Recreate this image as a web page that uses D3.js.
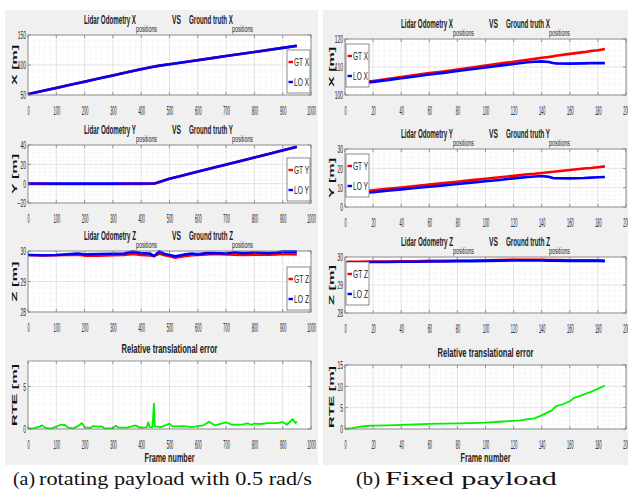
<!DOCTYPE html>
<html>
<head>
<meta charset="utf-8">
<script src="https://cdn.jsdelivr.net/npm/d3@7"></script>
<style>
body{margin:0;background:#fff;}
svg text{font-family:"Liberation Sans",Arial,sans-serif;fill:#262626;}
svg text.caption{font-family:"Liberation Serif","Times New Roman",serif;fill:#111;}
</style>
</head>
<body>
<script>
//ticks
var leftFrameTicks = [0,100,200,300,400,500,600,700,800,900,1000];
var rightFrameTicks = [0,20,40,60,80,100,120,140,160,180,200];
var leftXTicks = [50,100,150], leftYTicks = [-20,0,20,40], leftZTicks = [28,29,30], leftRteTicks = [0,5];
var rightXTicks = [100,110,120], rightYTicks = [0,10,20,30], rightZTicks = [28,29,30], rightRteTicks = [0,5,10,15];

//(a) rotating payload
var leftFramesXY = [0,50,100,150,200,250,300,350,400,440,450,460,500,550,600,650,700,750,800,850,900,950];
var leftGtX = [51.5,56.7,61.9,67.1,72.3,77.5,82.7,87.9,93.1,97.0,98.0,98.6,101.3,104.7,108.1,111.5,115.0,118.4,121.8,125.2,128.6,132.0];
var leftLoX = [51.3,56.5,61.8,67.0,72.1,77.4,82.6,87.8,93.0,96.8,97.6,98.5,101.2,104.6,108.0,111.4,114.9,118.3,121.7,125.1,128.5,131.9];
var leftGtY = [-0.2,-0.2,-0.3,-0.3,-0.3,-0.3,-0.3,-0.2,-0.2,-0.1,0.3,1.2,5.0,8.6,12.3,16.0,19.6,23.3,27.0,30.6,34.3,38.0];
var leftLoY = [0.1,0.1,0.0,0.0,0.0,0.0,0.0,0.1,0.1,0.2,0.5,1.4,5.2,8.8,12.5,16.2,19.8,23.5,27.1,30.8,34.5,38.2];
var leftFramesZ = [0,50,100,150,175,200,250,300,340,370,400,430,445,465,480,500,520,550,580,600,630,660,700,730,760,800,850,880,900,950];
var leftLoZ = [29.87,29.86,29.87,29.90,29.92,29.89,29.90,29.91,29.92,29.98,29.93,29.92,29.83,29.99,29.91,29.87,29.83,29.88,29.92,29.89,29.93,29.93,29.92,29.96,29.93,29.95,29.93,29.95,29.98,29.98];
var leftGtZ = [29.87,29.85,29.86,29.87,29.88,29.85,29.85,29.86,29.87,29.90,29.87,29.85,29.84,29.91,29.87,29.83,29.78,29.83,29.86,29.87,29.89,29.90,29.89,29.88,29.87,29.88,29.88,29.89,29.90,29.89];
var leftFramesRte = [0,20,40,50,60,80,100,115,130,140,160,180,190,200,220,230,250,260,270,300,310,320,350,380,395,420,425,430,440,445,448,470,500,510,550,580,600,620,640,660,700,720,760,775,790,800,820,850,880,900,915,935,945,950];
var leftRte = [0.08,0.08,0.27,0.43,0.16,0.04,0.27,0.5,0.47,0.2,0.08,0.39,0.7,0.2,0.12,0.35,0.27,0.31,0.08,0.08,0.39,0.16,0.16,0.43,0.16,0.2,0.78,0.23,0.23,2.97,0.31,0.23,0.63,0.31,0.35,0.23,0.35,0.43,0.86,0.43,0.78,0.5,0.55,0.66,0.5,0.63,0.59,0.7,0.7,0.82,0.5,1.17,0.7,0.86];

//(b) fixed payload
var rightFrames = [1,10,20,30,40,50,60,70,80,90,100,110,120,130,135,140,145,148,150,160,170,175,180,185];
var rightGtX = [103.8,104.4,105.0,105.7,106.4,107.1,107.8,108.4,109.1,109.8,110.5,111.2,111.9,112.6,112.9,113.3,113.6,113.8,114.0,114.7,115.3,115.7,116.0,116.4];
var rightLoX = [103.6,104.1,104.7,105.3,106.0,106.6,107.3,107.9,108.6,109.2,109.8,110.5,111.1,111.7,111.9,112.0,111.8,111.4,111.3,111.2,111.3,111.4,111.4,111.4];
var rightGtY = [7.2,7.9,8.6,9.4,10.1,10.9,11.6,12.4,13.1,13.9,14.6,15.4,16.1,16.9,17.2,17.6,18.0,18.2,18.4,19.1,19.9,20.2,20.6,21.0];
var rightLoY = [6.6,7.1,7.6,8.4,9.1,9.8,10.5,11.2,11.9,12.6,13.3,14.0,14.8,15.5,15.8,16.0,15.6,15.0,14.9,14.8,15.0,15.2,15.4,15.5];
var rightGtZ = [29.83,29.83,29.84,29.84,29.85,29.85,29.86,29.86,29.87,29.87,29.88,29.89,29.90,29.90,29.90,29.90,29.89,29.89,29.89,29.88,29.88,29.88,29.88,29.87];
var rightLoZ = [29.81,29.81,29.82,29.82,29.83,29.83,29.84,29.84,29.85,29.85,29.86,29.87,29.88,29.88,29.88,29.88,29.87,29.87,29.87,29.86,29.86,29.86,29.86,29.85];
var rightFramesRte = [0,5,10,15,20,30,40,50,60,70,80,90,100,110,120,125,130,135,140,145,147,150,155,160,163,167,170,175,180,185];
var rightRte = [0,0.2,0.5,0.7,0.8,0.85,0.95,1.05,1.2,1.25,1.3,1.4,1.5,1.7,1.9,2.0,2.3,2.5,3.2,4.0,4.3,5.3,5.8,6.5,7.3,7.7,8.1,8.7,9.4,10.2];

var svg = d3.select("body").append("svg")
    .attr("width", 628)
    .attr("height", 496);

//gray figure backgrounds
svg.append("rect").attr("x", 5).attr("y", 10).attr("width", 313).attr("height", 455).attr("fill", "#f0f0f0");
svg.append("rect").attr("x", 323).attr("y", 10).attr("width", 310).attr("height", 455).attr("fill", "#f0f0f0");

//narrow the text like the squeezed matlab figure
function squeeze(sel, f){
    sel.each(function(){
        var w = this.getComputedTextLength();
        if (w > 0) d3.select(this).attr("textLength", w * f).attr("lengthAdjust", "spacingAndGlyphs");
    });
}

function zip(xs, ys){
    return xs.map(function(d, i){ return [d, ys[i]]; });
}

function subdivide(ticks){
    var out = [];
    for (var i = 0; i < ticks.length - 1; i++){
        var step = (ticks[i+1] - ticks[i]) / 5;
        for (var k = 1; k < 5; k++) out.push(ticks[i] + k * step);
    }
    return out;
}

function drawPlot(o){
    var x = d3.scaleLinear().domain([o.xTicks[0], o.xTicks[o.xTicks.length-1]]).range([o.x0, o.x1]);
    var y = d3.scaleLinear().domain([o.yTicks[0], o.yMax || o.yTicks[o.yTicks.length-1]]).range([o.bottom, o.top]);
    var g = svg.append("g");

    g.append("rect")
        .attr("x", o.x0).attr("y", o.top)
        .attr("width", o.x1 - o.x0).attr("height", o.bottom - o.top)
        .attr("fill", "#fff");

    //minor grid
    var yMinor = subdivide(o.yTicks.concat(o.yMax ? [o.yMax] : [])).filter(function(d){ return d < y.domain()[1]; });
    g.selectAll(".xminor").data(subdivide(o.xTicks)).enter().append("line")
        .attr("x1", x).attr("x2", x).attr("y1", o.top).attr("y2", o.bottom)
        .attr("stroke", "#e4e4e4").attr("stroke-width", 0.6).attr("stroke-dasharray", "1,1.5");
    g.selectAll(".yminor").data(yMinor).enter().append("line")
        .attr("y1", y).attr("y2", y).attr("x1", o.x0).attr("x2", o.x1)
        .attr("stroke", "#e4e4e4").attr("stroke-width", 0.6).attr("stroke-dasharray", "1,1.5");

    //major grid
    g.selectAll(".xgrid").data(o.xTicks).enter().append("line")
        .attr("x1", x).attr("x2", x).attr("y1", o.top).attr("y2", o.bottom)
        .attr("stroke", "#dcdcdc").attr("stroke-width", 0.8);
    g.selectAll(".ygrid").data(o.yTicks).enter().append("line")
        .attr("y1", y).attr("y2", y).attr("x1", o.x0).attr("x2", o.x1)
        .attr("stroke", "#dcdcdc").attr("stroke-width", 0.8);

    //data lines
    var line = d3.line().x(function(d){ return x(d[0]); }).y(function(d){ return y(d[1]); });
    o.series.forEach(function(s){
        g.append("path")
            .datum(zip(s.x, s.y))
            .attr("d", line)
            .attr("fill", "none")
            .attr("stroke", s.color)
            .attr("stroke-width", s.width || 2.6)
            .attr("stroke-linejoin", "round");
    });

    //inner ticks on all four sides
    o.xTicks.forEach(function(t){
        g.append("line").attr("x1", x(t)).attr("x2", x(t)).attr("y1", o.bottom).attr("y2", o.bottom - 3).attr("stroke", "#707070").attr("stroke-width", 0.7);
        g.append("line").attr("x1", x(t)).attr("x2", x(t)).attr("y1", o.top).attr("y2", o.top + 3).attr("stroke", "#707070").attr("stroke-width", 0.7);
    });
    o.yTicks.forEach(function(t){
        g.append("line").attr("y1", y(t)).attr("y2", y(t)).attr("x1", o.x0).attr("x2", o.x0 + 3).attr("stroke", "#707070").attr("stroke-width", 0.7);
        g.append("line").attr("y1", y(t)).attr("y2", y(t)).attr("x1", o.x1).attr("x2", o.x1 - 3).attr("stroke", "#707070").attr("stroke-width", 0.7);
    });

    //frame
    g.append("rect")
        .attr("x", o.x0).attr("y", o.top)
        .attr("width", o.x1 - o.x0).attr("height", o.bottom - o.top)
        .attr("fill", "none").attr("stroke", "#808080").attr("stroke-width", 0.8);

    //axes labels
    var xAxis = g.append("g")
        .attr("transform", "translate(0," + o.bottom + ")")
        .call(d3.axisBottom(x).tickValues(o.xTicks).tickSize(0).tickFormat(d3.format("d")));
    xAxis.select(".domain").remove();
    xAxis.selectAll("text").attr("y", 20).attr("dy", null)
        .style("font-size", "13px").style("fill", "#262626");
    squeeze(xAxis.selectAll("text"), 0.3);

    var yAxis = g.append("g")
        .attr("transform", "translate(" + o.x0 + ",0)")
        .call(d3.axisLeft(y).tickValues(o.yTicks).tickSize(0).tickPadding(2).tickFormat(d3.format("d")));
    yAxis.select(".domain").remove();
    yAxis.selectAll("text").attr("dy", "0.36em")
        .style("font-size", "11px").style("fill", "#262626");
    squeeze(yAxis.selectAll("text"), 0.45);

    //y label, rotated and flattened
    g.append("text")
        .attr("transform", "translate(" + (o.x0 - 11) + "," + ((o.top + o.bottom) / 2) + ") rotate(-90) scale(1,0.65)")
        .attr("text-anchor", "middle")
        .style("font-size", "11px").style("font-weight", "bold").style("fill", "#111")
        .attr("textLength", o.ylabelLen).attr("lengthAdjust", "spacingAndGlyphs")
        .text(o.ylabel);

    //title
    if (o.axisName){
        var parts = [
            {t: "Lidar Odometry " + o.axisName, dx: 56, w: 52, sub: false},
            {t: "positions", dx: 108, w: 21, sub: true},
            {t: "VS", dx: 144, w: 9, sub: false},
            {t: "Ground truth " + o.axisName, dx: 161, w: 44, sub: false},
            {t: "positions", dx: 204, w: 21, sub: true}
        ];
        parts.forEach(function(p){
            g.append("text")
                .attr("x", o.x0 + p.dx)
                .attr("y", p.sub ? o.top - 3.5 : o.top - 11)
                .style("font-size", p.sub ? "9px" : "12.5px")
                .style("font-weight", p.sub ? "normal" : "bold")
                .style("fill", "#222")
                .attr("textLength", p.w).attr("lengthAdjust", "spacingAndGlyphs")
                .text(p.t);
        });
    } else {
        g.append("text")
            .attr("x", (o.x0 + o.x1) / 2)
            .attr("y", o.top - 8)
            .attr("text-anchor", "middle")
            .style("font-size", "12.5px").style("font-weight", "bold").style("fill", "#222")
            .attr("textLength", 96).attr("lengthAdjust", "spacingAndGlyphs")
            .text("Relative translational error");
        g.append("text")
            .attr("x", (o.x0 + o.x1) / 2)
            .attr("y", o.bottom + 33)
            .attr("text-anchor", "middle")
            .style("font-size", "12px").style("font-weight", "bold").style("fill", "#222")
            .attr("textLength", 50).attr("lengthAdjust", "spacingAndGlyphs")
            .text("Frame number");
    }

    //legend
    if (o.legend){
        var lx = o.legend.side == "right" ? o.x1 - 24 : o.x0 + 1,
            ly = o.legend.side == "right" ? o.bottom - 45 : o.top + 5;
        var lg = g.append("g").attr("transform", "translate(" + lx + "," + ly + ")");
        lg.append("rect").attr("width", 23).attr("height", 43)
            .attr("fill", "#fff").attr("stroke", "#707070").attr("stroke-width", 0.8);
        o.legend.labels.forEach(function(lab, i){
            var cy = i == 0 ? 12 : 32;
            lg.append("line").attr("x1", 1.5).attr("x2", 6).attr("y1", cy).attr("y2", cy)
                .attr("stroke", o.series[i].color).attr("stroke-width", 2.4);
            lg.append("text").attr("x", 7).attr("y", cy + 4)
                .style("font-size", "11px").style("fill", "#222")
                .attr("textLength", 15).attr("lengthAdjust", "spacingAndGlyphs")
                .text(lab);
        });
    }
}

var red = "#ff0000", blue = "#0000ff", green = "#00f000";
var L = {x0: 28, x1: 311}, R = {x0: 345, x1: 626};

//(a) plots
drawPlot({x0: L.x0, x1: L.x1, top: 35, bottom: 95, xTicks: leftFrameTicks, yTicks: leftXTicks,
    axisName: "X", ylabel: "X [m]", ylabelLen: 40,
    series: [{x: leftFramesXY, y: leftGtX, color: red}, {x: leftFramesXY, y: leftLoX, color: blue}],
    legend: {side: "right", labels: ["GT X", "LO X"]}});
drawPlot({x0: L.x0, x1: L.x1, top: 145, bottom: 203, xTicks: leftFrameTicks, yTicks: leftYTicks,
    axisName: "Y", ylabel: "Y [m]", ylabelLen: 40,
    series: [{x: leftFramesXY, y: leftGtY, color: red}, {x: leftFramesXY, y: leftLoY, color: blue}],
    legend: {side: "right", labels: ["GT Y", "LO Y"]}});
drawPlot({x0: L.x0, x1: L.x1, top: 251, bottom: 312, xTicks: leftFrameTicks, yTicks: leftZTicks,
    axisName: "Z", ylabel: "Z [m]", ylabelLen: 40,
    series: [{x: leftFramesZ, y: leftGtZ, color: red}, {x: leftFramesZ, y: leftLoZ, color: blue}],
    legend: {side: "right", labels: ["GT Z", "LO Z"]}});
drawPlot({x0: L.x0, x1: L.x1, top: 361, bottom: 429, xTicks: leftFrameTicks, yTicks: leftRteTicks, yMax: 8,
    ylabel: "RTE [m]", ylabelLen: 62,
    series: [{x: leftFramesRte, y: leftRte, color: green, width: 1.8}]});

//(b) plots
drawPlot({x0: R.x0, x1: R.x1, top: 39, bottom: 95, xTicks: rightFrameTicks, yTicks: rightXTicks,
    axisName: "X", ylabel: "X [m]", ylabelLen: 40,
    series: [{x: rightFrames, y: rightGtX, color: red}, {x: rightFrames, y: rightLoX, color: blue}],
    legend: {side: "left", labels: ["GT X", "LO X"]}});
drawPlot({x0: R.x0, x1: R.x1, top: 149, bottom: 207, xTicks: rightFrameTicks, yTicks: rightYTicks,
    axisName: "Y", ylabel: "Y [m]", ylabelLen: 40,
    series: [{x: rightFrames, y: rightGtY, color: red}, {x: rightFrames, y: rightLoY, color: blue}],
    legend: {side: "left", labels: ["GT Y", "LO Y"]}});
drawPlot({x0: R.x0, x1: R.x1, top: 257, bottom: 313, xTicks: rightFrameTicks, yTicks: rightZTicks,
    axisName: "Z", ylabel: "Z [m]", ylabelLen: 40,
    series: [{x: rightFrames, y: rightGtZ, color: red}, {x: rightFrames, y: rightLoZ, color: blue}],
    legend: {side: "left", labels: ["GT Z", "LO Z"]}});
drawPlot({x0: R.x0, x1: R.x1, top: 365, bottom: 429, xTicks: rightFrameTicks, yTicks: rightRteTicks,
    ylabel: "RTE [m]", ylabelLen: 62,
    series: [{x: rightFramesRte, y: rightRte, color: green, width: 1.8}]});

//captions
function caption(tag, tagX, tagW, rest, restX, restW){
    svg.append("text").attr("class", "caption").attr("x", tagX).attr("y", 485)
        .style("font-size", "19px").attr("textLength", tagW).attr("lengthAdjust", "spacingAndGlyphs").text(tag);
    svg.append("text").attr("class", "caption").attr("x", restX).attr("y", 485)
        .style("font-size", "19px").attr("textLength", restW).attr("lengthAdjust", "spacingAndGlyphs").text(rest);
}
caption("(a)", 13, 22, "rotating payload with 0.5 rad/s", 39, 273);
caption("(b)", 356, 24, "Fixed payload", 385, 172);
</script>
</body>
</html>
